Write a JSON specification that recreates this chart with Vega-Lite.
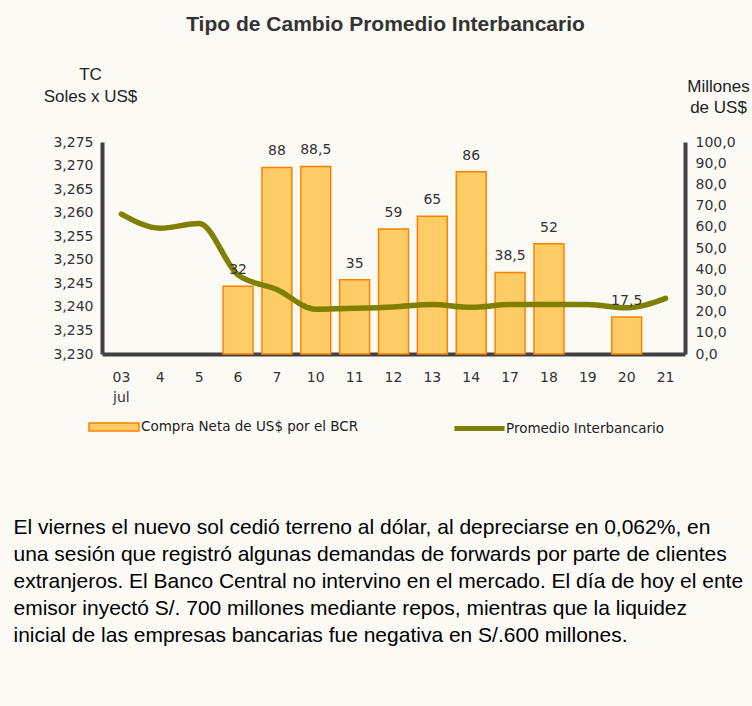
{
  "$schema": "https://vega.github.io/schema/vega-lite/v6.json",
  "width": 583,
  "height": 212,
  "autosize": {"type": "none"},
  "padding": {"left": 102, "top": 142, "right": 67, "bottom": 352},
  "background": "#fbfaf5",
  "title": {
    "text": "Tipo de Cambio Promedio Interbancario",
    "font": "Liberation Sans",
    "fontSize": 21,
    "fontWeight": "bold",
    "color": "#333333",
    "anchor": "middle",
    "dx": -8,
    "offset": 30
  },
  "data": {
    "values": [
      {"dia": "03", "compra": null, "tc": 3.2597},
      {"dia": "4", "compra": null, "tc": 3.2567},
      {"dia": "5", "compra": null, "tc": 3.2577},
      {"dia": "6", "compra": 32, "tc": 3.2468},
      {"dia": "7", "compra": 88, "tc": 3.2437},
      {"dia": "10", "compra": 88.5, "tc": 3.2395},
      {"dia": "11", "compra": 35, "tc": 3.2397},
      {"dia": "12", "compra": 59, "tc": 3.24},
      {"dia": "13", "compra": 65, "tc": 3.2405},
      {"dia": "14", "compra": 86, "tc": 3.2399},
      {"dia": "17", "compra": 38.5, "tc": 3.2405},
      {"dia": "18", "compra": 52, "tc": 3.2405},
      {"dia": "19", "compra": null, "tc": 3.2405},
      {"dia": "20", "compra": 17.5, "tc": 3.2398},
      {"dia": "21", "compra": null, "tc": 3.2418}
    ]
  },
  "encoding": {
    "x": {
      "field": "dia",
      "type": "ordinal",
      "sort": ["03", "4", "5", "6", "7", "10", "11", "12", "13", "14", "17", "18", "19", "20", "21"],
      "scale": {
        "domain": ["03", "4", "5", "6", "7", "10", "11", "12", "13", "14", "17", "18", "19", "20", "21"],
        "paddingInner": 0.23,
        "paddingOuter": 0.115
      },
      "axis": {
        "labelAngle": 0,
        "labelExpr": "datum.value == '03' ? ['03', 'jul'] : datum.value",
        "labelFont": "DejaVu Sans",
        "labelFontSize": 14,
        "labelColor": "#333333",
        "labelPadding": 16,
        "labelLineHeight": 20,
        "ticks": false,
        "domainColor": "#404040",
        "domainWidth": 4,
        "title": [
          "El viernes el nuevo sol cedió terreno al dólar, al depreciarse en 0,062%, en",
          "una sesión que registró algunas demandas de forwards por parte de clientes",
          "extranjeros. El Banco Central no intervino en el mercado. El día de hoy el ente",
          "emisor inyectó S/. 700 millones mediante repos, mientras que la liquidez",
          "inicial de las empresas bancarias fue negativa en S/.600 millones."
        ],
        "titleX": -89,
        "titleY": 179,
        "titleAlign": "left",
        "titleAnchor": "start",
        "titleBaseline": "alphabetic",
        "titleFont": "Liberation Sans",
        "titleFontSize": 21,
        "titleFontWeight": "normal",
        "titleColor": "#000000",
        "titleLineHeight": 27,
        "titleLimit": 0
      }
    }
  },
  "layer": [
    {
      "mark": {"type": "bar", "stroke": "#FF8000", "strokeWidth": 1.5},
      "encoding": {
        "y": {
          "field": "compra",
          "type": "quantitative",
          "scale": {"domain": [0, 100], "nice": false},
          "axis": {
            "orient": "right",
            "values": [0, 10, 20, 30, 40, 50, 60, 70, 80, 90, 100],
            "format": ".1f",
            "grid": false,
            "ticks": false,
            "labelFont": "DejaVu Sans",
            "labelFontSize": 14,
            "labelColor": "#333333",
            "labelPadding": 10,
            "domainColor": "#404040",
            "domainWidth": 4,
            "title": ["Millones", "de US$"],
            "titleAngle": 0,
            "titleX": 33,
            "titleY": -51,
            "titleAlign": "center",
            "titleBaseline": "alphabetic",
            "titleFont": "Liberation Sans",
            "titleFontSize": 17,
            "titleFontWeight": "normal",
            "titleColor": "#222222",
            "titleLineHeight": 21
          }
        },
        "fill": {
          "datum": "Compra Neta de US$ por el BCR",
          "scale": {"range": ["#FFCC66"]},
          "legend": {
            "orient": "none",
            "legendX": -14,
            "legendY": 259,
            "title": null,
            "padding": 0,
            "symbolType": "M-1,-0.16H1V0.16H-1Z",
            "symbolSize": 2500,
            "symbolStrokeColor": "#FF8000",
            "symbolStrokeWidth": 1.5,
            "labelFont": "DejaVu Sans",
            "labelFontSize": 13.5,
            "labelColor": "#222222",
            "labelOffset": 1,
            "labelLimit": 400
          }
        }
      }
    },
    {
      "mark": {"type": "line", "interpolate": "monotone", "strokeWidth": 5.5, "strokeCap": "round"},
      "encoding": {
        "y": {
          "field": "tc",
          "type": "quantitative",
          "scale": {"domain": [3.23, 3.275], "nice": false, "zero": false},
          "axis": {
            "orient": "left",
            "values": [3.23, 3.235, 3.24, 3.245, 3.25, 3.255, 3.26, 3.265, 3.27, 3.275],
            "format": ".3f",
            "grid": false,
            "ticks": false,
            "labelFont": "DejaVu Sans",
            "labelFontSize": 14,
            "labelColor": "#333333",
            "labelPadding": 9,
            "domainColor": "#404040",
            "domainWidth": 4,
            "title": ["TC", "Soles x US$"],
            "titleAngle": 0,
            "titleX": -12,
            "titleY": -63,
            "titleAlign": "center",
            "titleBaseline": "alphabetic",
            "titleFont": "Liberation Sans",
            "titleFontSize": 17,
            "titleFontWeight": "normal",
            "titleColor": "#222222",
            "titleLineHeight": 22
          }
        },
        "stroke": {
          "datum": "Promedio Interbancario",
          "scale": {"range": ["#808000"]},
          "legend": {
            "orient": "none",
            "legendX": 350,
            "legendY": 259,
            "title": null,
            "padding": 0,
            "symbolType": "stroke",
            "symbolSize": 2500,
            "symbolStrokeWidth": 5,
            "labelFont": "DejaVu Sans",
            "labelFontSize": 13.5,
            "labelColor": "#222222",
            "labelOffset": -1,
            "labelLimit": 400
          }
        }
      }
    },
    {
      "mark": {"type": "text", "baseline": "bottom", "dy": -9, "font": "DejaVu Sans", "fontSize": 14, "color": "#333333"},
      "encoding": {
        "y": {
          "field": "compra",
          "type": "quantitative",
          "scale": {"domain": [0, 100], "nice": false},
          "axis": null
        },
        "text": {"field": "compra", "type": "quantitative", "format": ".1~f"}
      }
    }
  ],
  "resolve": {"scale": {"y": "independent"}},
  "config": {
    "view": {"stroke": null},
    "locale": {
      "number": {"decimal": ",", "thousands": ".", "grouping": [3], "currency": ["$", ""]}
    }
  }
}
